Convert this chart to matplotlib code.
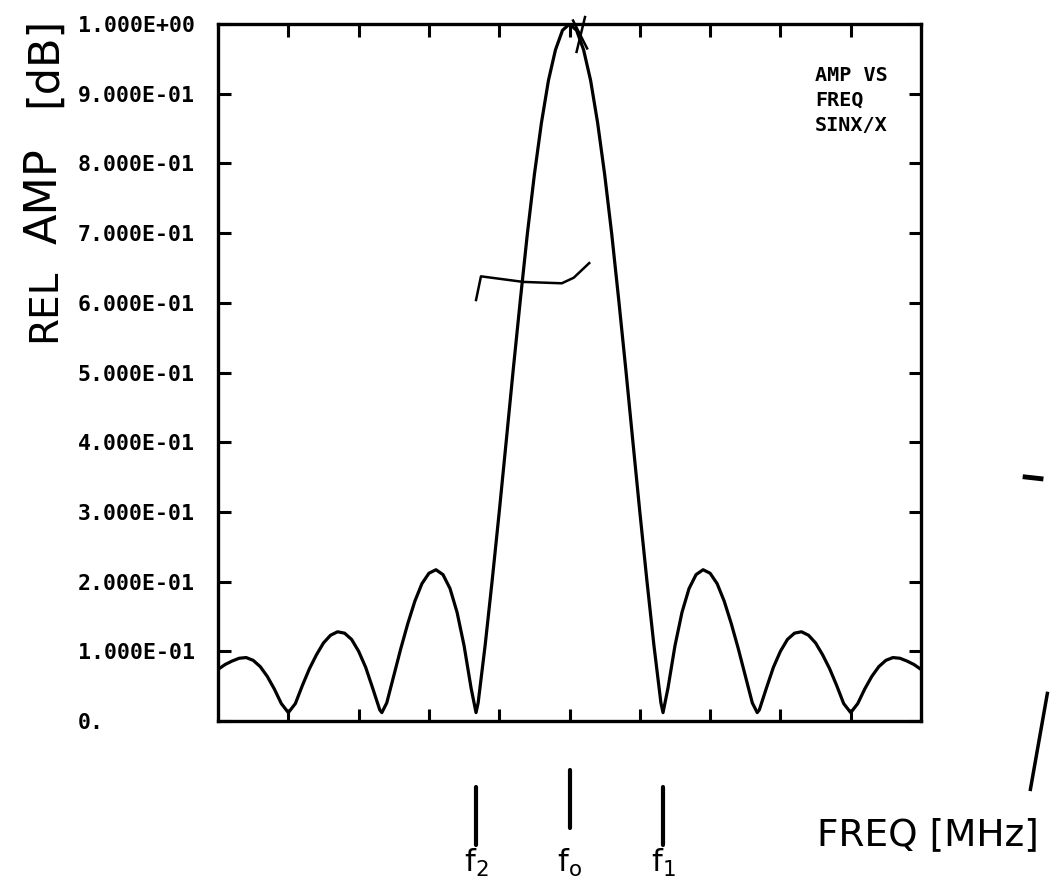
import matplotlib
matplotlib.use("Agg")
import matplotlib.pyplot as plt
import matplotlib.transforms as mtransforms

# curve (x in tick units, f0 at 0)
freq = [-5.0, -4.9, -4.8, -4.7, -4.6, -4.5, -4.4, -4.3, -4.2, -4.1, -4.0,
        -3.9, -3.8, -3.7, -3.6, -3.5, -3.4, -3.3, -3.2, -3.1, -3.0,
        -2.9, -2.8, -2.7, -2.67, -2.6, -2.5, -2.4, -2.3, -2.2, -2.1, -2.0,
        -1.9, -1.8, -1.7, -1.6, -1.5, -1.4, -1.33, -1.3, -1.2, -1.1, -1.0,
        -0.9, -0.8, -0.7, -0.6, -0.5, -0.4, -0.3, -0.2, -0.1, 0.0,
        0.1, 0.2, 0.3, 0.4, 0.5, 0.6, 0.7, 0.8, 0.9, 1.0,
        1.1, 1.2, 1.3, 1.33, 1.4, 1.5, 1.6, 1.7, 1.8, 1.9, 2.0,
        2.1, 2.2, 2.3, 2.4, 2.5, 2.6, 2.67, 2.7, 2.8, 2.9, 3.0,
        3.1, 3.2, 3.3, 3.4, 3.5, 3.6, 3.7, 3.8, 3.9, 4.0,
        4.1, 4.2, 4.3, 4.4, 4.5, 4.6, 4.7, 4.8, 4.9, 5.0]
rel_amp = [0.074, 0.081, 0.086, 0.090, 0.091, 0.087, 0.078, 0.064, 0.046, 0.025, 0.012,
           0.025, 0.051, 0.075, 0.095, 0.112, 0.123, 0.128, 0.126, 0.117, 0.100,
           0.077, 0.047, 0.016, 0.012, 0.026, 0.065, 0.104, 0.140, 0.172, 0.197, 0.212,
           0.217, 0.210, 0.190, 0.156, 0.108, 0.047, 0.012, 0.026, 0.109, 0.202, 0.300,
           0.402, 0.505, 0.604, 0.699, 0.784, 0.858, 0.919, 0.963, 0.991, 1.000,
           0.991, 0.963, 0.919, 0.858, 0.784, 0.699, 0.604, 0.505, 0.402, 0.300,
           0.202, 0.109, 0.026, 0.012, 0.047, 0.108, 0.156, 0.190, 0.210, 0.217, 0.212,
           0.197, 0.172, 0.140, 0.104, 0.065, 0.026, 0.012, 0.016, 0.047, 0.077, 0.100,
           0.117, 0.126, 0.128, 0.123, 0.112, 0.095, 0.075, 0.051, 0.025, 0.012,
           0.025, 0.046, 0.064, 0.078, 0.087, 0.091, 0.090, 0.086, 0.081, 0.074]

y_ticks = [0.0, 0.1, 0.2, 0.3, 0.4, 0.5, 0.6, 0.7, 0.8, 0.9, 1.0]
y_tick_labels = ["0.", "1.000E-01", "2.000E-01", "3.000E-01", "4.000E-01",
                 "5.000E-01", "6.000E-01", "7.000E-01", "8.000E-01",
                 "9.000E-01", "1.000E+00"]
x_ticks = [-4, -3, -2, -1, 0, 1, 2, 3, 4]

# hand marked frequencies under the axis
marker_pos = [-1.33, 0.0, 1.33]
marker_names = [r"$\mathrm{f}_{2}$", r"$\mathrm{f}_{\mathrm{o}}$", r"$\mathrm{f}_{1}$"]

# pen scribble across the main lobe
scribble_x = [-1.33, -1.26, -0.66, -0.11, 0.06, 0.28]
scribble_y = [0.604, 0.638, 0.630, 0.628, 0.636, 0.657]

fig = plt.figure(figsize=(10.59, 8.8), dpi=100)
ax = fig.add_axes([0.2059, 0.1807, 0.6638, 0.792])

ax.plot(freq, rel_amp, color="black", lw=2.3, solid_joinstyle="round")
ax.plot(scribble_x, scribble_y, color="black", lw=1.8)
# little x scrawled at the peak
ax.plot([0.05, 0.25], [1.005, 0.965], color="black", lw=1.8, clip_on=False)
ax.plot([0.10, 0.22], [0.96, 1.01], color="black", lw=1.8, clip_on=False)

ax.set_xlim(-5, 5)
ax.set_ylim(0, 1.0)
ax.set_xticks(x_ticks)
ax.set_xticklabels([])
ax.set_yticks(y_ticks)
ax.set_yticklabels(y_tick_labels, fontfamily="DejaVu Sans Mono",
                   fontweight="bold", fontsize=15.5, ha="left")
ax.tick_params(direction="in", length=9, width=2.2, top=True, right=True,
               pad=101)
for s in ax.spines.values():
    s.set_linewidth(2.4)

ax.text(0.849, 0.94, "AMP VS\nFREQ\nSINX/X", transform=ax.transAxes,
        fontfamily="DejaVu Sans Mono", fontweight="bold", fontsize=14.5,
        va="top", ha="left", linespacing=1.4)

# f markers drawn below the axis
trans = mtransforms.blended_transform_factory(ax.transData, ax.transAxes)
for pos, name in zip(marker_pos, marker_names):
    top = -0.07 if pos == 0 else -0.095
    ax.plot([pos, pos], [top, top - 0.083], transform=trans, color="black",
            lw=3, clip_on=False, solid_capstyle="round")
    ax.text(pos, -0.227, name, transform=trans, fontsize=22,
            ha="center", va="bottom")

fig.text(0.876, 0.051, "FREQ [MHz]", fontsize=27, ha="center", va="center")

# y label, hand lettered in pieces
fig.text(0.042, 0.653, "REL", rotation=90, fontsize=28, ha="center", va="center")
fig.text(0.042, 0.777, "AMP", rotation=90, fontsize=32, ha="center", va="center")
fig.text(0.042, 0.930, "[dB]", rotation=90, fontsize=31, ha="center", va="center")

# pen strokes at right edge of the scan
fig.add_artist(plt.Line2D([0.973, 0.989], [0.103, 0.212], color="black", lw=2.5))
fig.add_artist(plt.Line2D([0.968, 0.983], [0.458, 0.456], color="black", lw=3.5))

fig.savefig("out.png", dpi=100)
